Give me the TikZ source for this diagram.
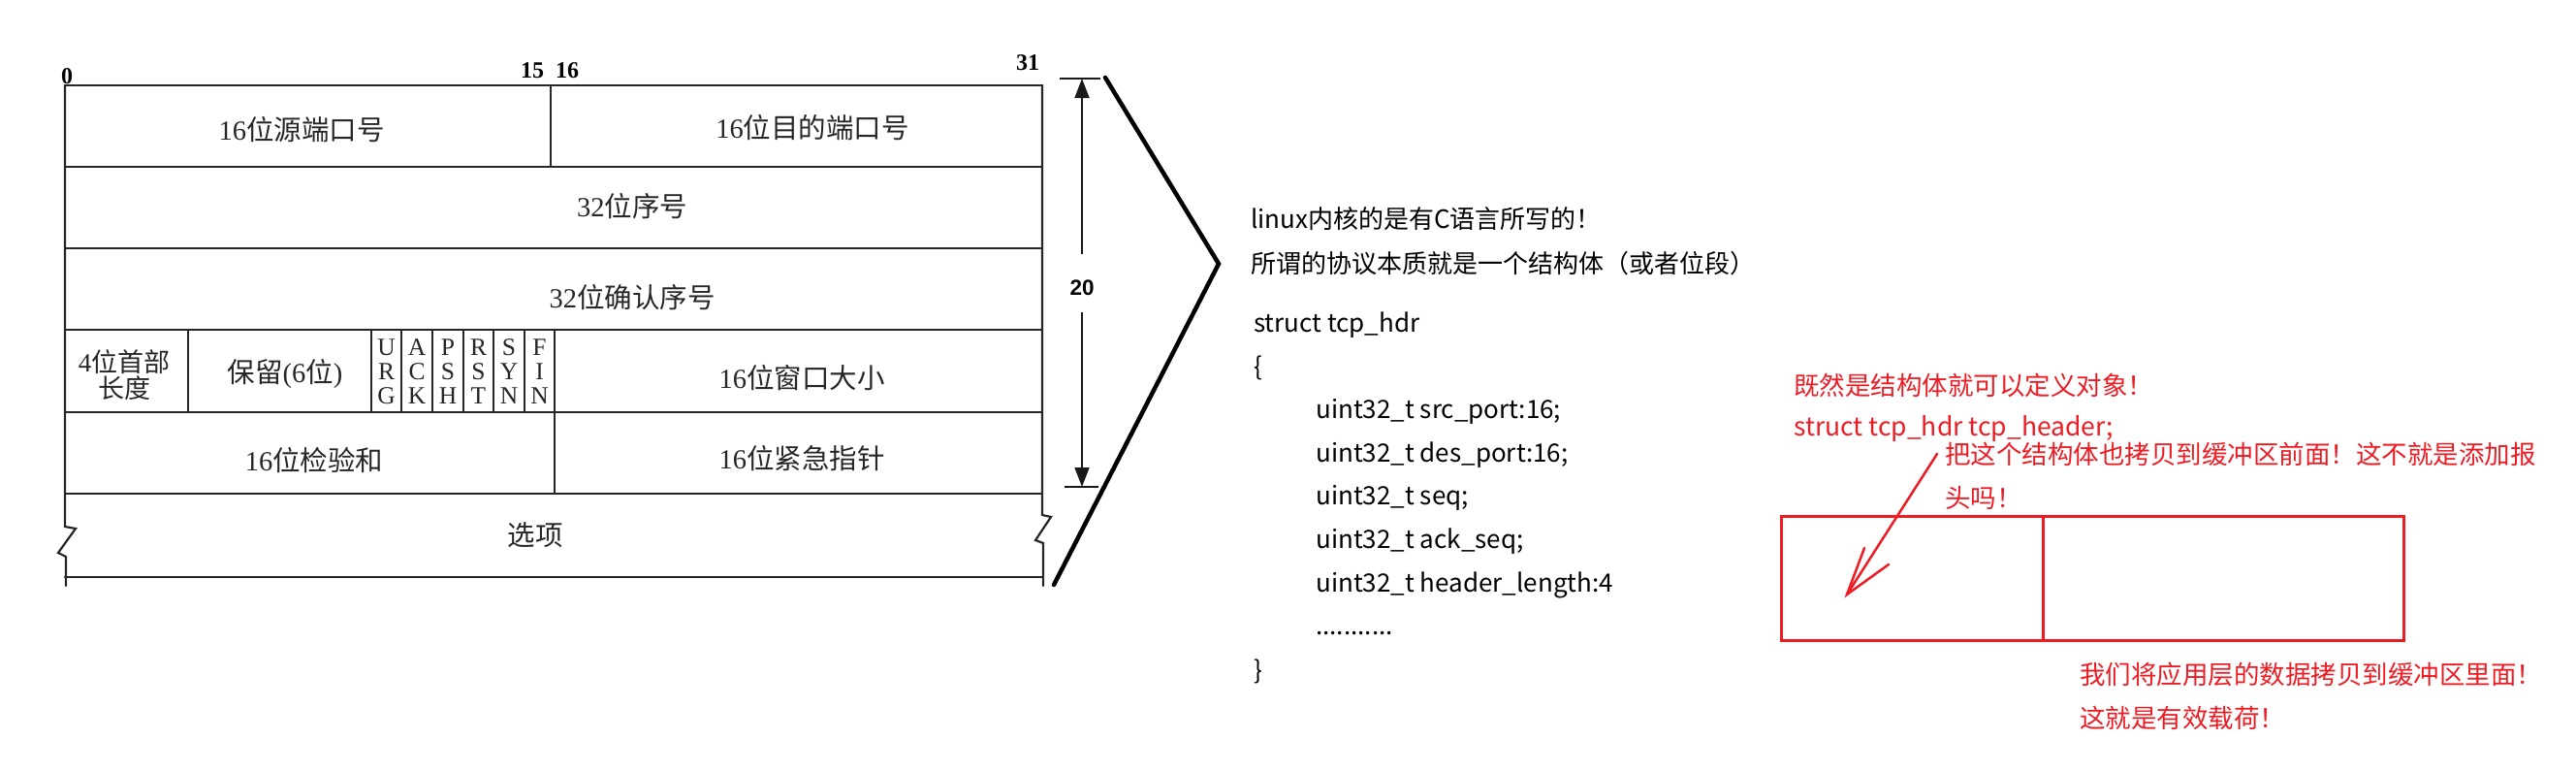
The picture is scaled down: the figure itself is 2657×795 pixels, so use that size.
\documentclass[tikz,border=0pt]{standalone}
\usepackage{fontspec}
\setmainfont{Liberation Serif}
\newfontfamily\cjk{Noto Sans CJK SC}
\newfontfamily\tms{Liberation Serif}
\newfontfamily\arl{Liberation Sans}
\usetikzlibrary{arrows.meta}
\definecolor{mred}{RGB}{237,28,36}
\begin{document}
\begin{tikzpicture}[x=1pt,y=-1pt,
  hl/.style={line width=2.2pt, draw=black!85, line cap=round},
  ht/.style={inner sep=0pt, font=\cjk\fontsize{28.5}{30}\selectfont, text=black!85},
  bitlbl/.style={inner sep=0pt, font=\tms\bfseries\fontsize{24}{26}\selectfont},
  flagtxt/.style={inner sep=0pt, align=center, font=\tms\fontsize{25.5}{25}\selectfont, text=black!85},
  code/.style={inner sep=0pt, anchor=base west, font=\cjk\fontsize{26}{30}\selectfont},
  note/.style={inner sep=0pt, anchor=base west, font=\cjk\fontsize{26.5}{30}\selectfont, text=mred},
  dimline/.style={line width=1.8pt, draw=black!90},
  dimarrow/.style={dimline, -{Triangle[length=20pt,width=15pt]}},
  bigbr/.style={line width=4.5pt, line join=miter, line cap=round},
  redbox/.style={line width=3pt, draw=mred},
  redarrow/.style={line width=2.5pt, draw=mred, line cap=round},
]
\useasboundingbox (0,0) rectangle (2657,795);

% ---------- TCP header frame ----------
\draw[hl] (67,88) -- (1075,88);
\draw[hl] (67,172) -- (1075,172);
\draw[hl] (67,256) -- (1075,256);
\draw[hl] (67,340) -- (1075,340);
\draw[hl] (67,425) -- (1075,425);
\draw[hl] (67,509) -- (1075,509);
\draw[hl] (67,595) -- (1075,595);
\draw[hl, line join=miter] (67,88) -- (67,543) -- (78,545) -- (60,570) -- (68,574) -- (68,604);
\draw[hl, line join=miter] (1075,88) -- (1075,531) -- (1084,533) -- (1068,557) -- (1076,560) -- (1076,604);
\draw[hl] (568,88) -- (568,172);
\draw[hl] (194,340) -- (194,425);
\foreach \xx in {383,414,446,478,509,541,572} {\draw[hl] (\xx,340) -- (\xx,425);}
\draw[hl] (572,425) -- (572,509);

\node[bitlbl] (b0)  at (69,79)   {0};
\node[bitlbl] (b15) at (549,73)  {15};
\node[bitlbl] (b16) at (585,73)  {16};
\node[bitlbl] (b31) at (1060,65) {31};

\node[ht] (srcp) at (311,134) {{\tms 16}位源端口号};
\node[ht] (dstp) at (838,132) {{\tms 16}位目的端口号};
\node[ht] (seq)  at (652,213) {{\tms 32}位序号};
\node[ht] (ack)  at (652,307) {{\tms 32}位确认序号};
\node[ht, align=center, font=\cjk\fontsize{27}{27}\selectfont] (hlen) at (128,387) {{\tms 4}位首部\\长度};
\node[ht] (resv) at (294,385) {保留{\tms (6}位{\tms )}};
\node[flagtxt] (fU) at (398.5,383) {U\\R\\G};
\node[flagtxt] (fA) at (430,383)   {A\\C\\K};
\node[flagtxt] (fP) at (462,383)   {P\\S\\H};
\node[flagtxt] (fR) at (493.5,383) {R\\S\\T};
\node[flagtxt] (fS) at (525,383)   {S\\Y\\N};
\node[flagtxt] (fF) at (556.5,383) {F\\I\\N};
\node[ht] (win)  at (827,390) {{\tms 16}位窗口大小};
\node[ht] (csum) at (324,475) {{\tms 16}位检验和};
\node[ht] (urg)  at (827,473) {{\tms 16}位紧急指针};
\node[ht] (opt)  at (552,552) {选项};

% ---------- dimension 20 ----------
\draw[dimline] (1093,81) -- (1135,81);
\draw[dimline] (1098,502) -- (1133,502);
\node[inner sep=0pt, font=\arl\bfseries\fontsize{22.5}{24}\selectfont] (n20) at (1116,297) {20};
\coordinate (dtop) at (1116,81);
\coordinate (dbot) at (1116,502);
\coordinate (du) at (1116,262);
\coordinate (dd) at (1116,322);
\draw[dimarrow] (du) -- (dtop);
\draw[dimarrow] (dd) -- (dbot);

% ---------- big bracket ----------
\coordinate (brA) at (1140,80);
\coordinate (brB) at (1257,272);
\coordinate (brC) at (1087,603);
\draw[bigbr] (brA) -- (brB) -- (brC);

% ---------- code text ----------
\node[code] (l1) at (1290,235.5) {linux内核的是有C语言所写的！};
\node[code] (l2) at (1290,281) {所谓的协议本质就是一个结构体（或者位段）};
\node[code] (l3) at (1293,342.5) {struct tcp\_hdr};
\node[code] (l4) at (1293,387) {\{};
\node[code] (l5) at (1357,431.6) {uint32\_t src\_port:16;};
\node[code] (l6) at (1357,476) {uint32\_t des\_port:16;};
\node[code] (l7) at (1357,520.6) {uint32\_t seq;};
\node[code] (l8) at (1357,565) {uint32\_t ack\_seq;};
\node[code] (l9) at (1357,610) {uint32\_t header\_length:4};
\node[code] (l10) at (1357,654.5) {...........};
\node[code] (l11) at (1293,700) {\}};

% ---------- red notes ----------
\node[note] (r1) at (1850,407) {既然是结构体就可以定义对象！};
\node[note] (r2) at (1850,449) {struct tcp\_hdr tcp\_header;};
\node[note, fill=white] (r3) at (2006,478) {把这个结构体也拷贝到缓冲区前面！这不就是添加报};
\node[note] (r4) at (2006,523) {头吗！};
\node[note] (r5) at (2145,705) {我们将应用层的数据拷贝到缓冲区里面！};
\node[note] (r6) at (2145,750) {这就是有效载荷！};

\draw[redbox] (1837,532) rectangle (2479,660);
\draw[redbox] (2107,532) -- (2107,660);

\coordinate (ra) at (1998,468);
\coordinate (rt) at (1905,613);
\coordinate (rh1) at (1923,565);
\coordinate (rh2) at (1948,582);
\draw[redarrow] (ra) -- (rt);
\draw[redarrow] (rh1) -- (rt) -- (rh2);
\end{tikzpicture}
\end{document}
